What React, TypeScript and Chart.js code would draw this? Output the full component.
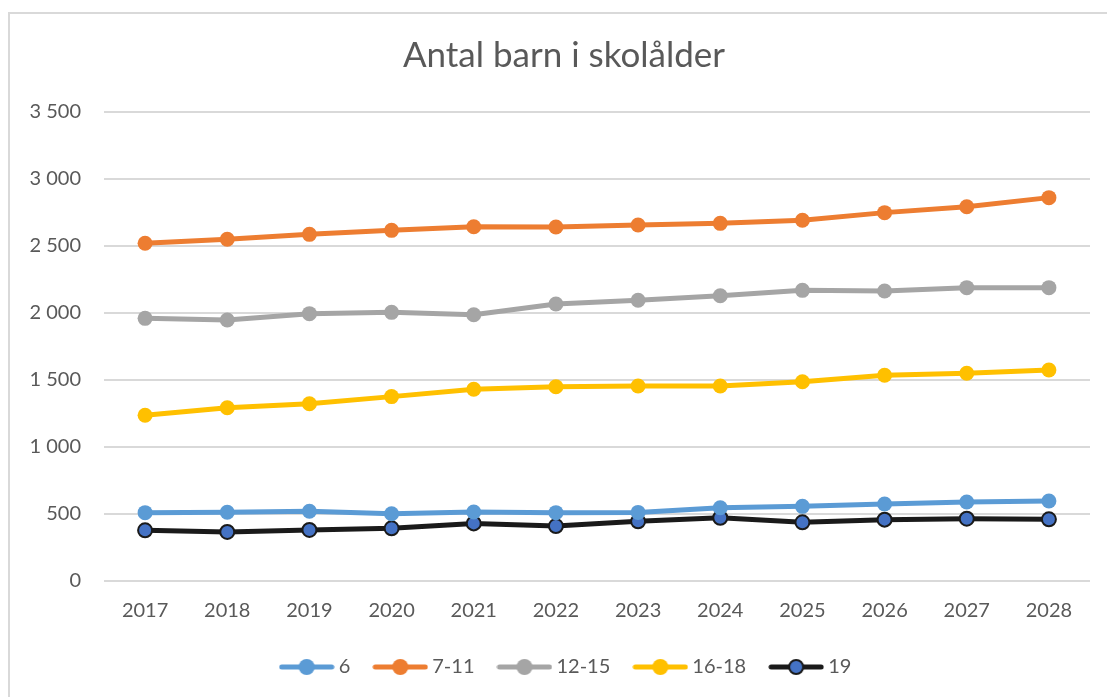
import React, { useEffect, useRef } from "react";
import { Chart, registerables } from "chart.js";

Chart.register(...registerables);

const years = ["2017", "2018", "2019", "2020", "2021", "2022", "2023", "2024", "2025", "2026", "2027", "2028"];
const age6 = [510, 513, 520, 502, 515, 510, 512, 547, 557, 575, 590, 597];
const age7to11 = [2520, 2550, 2587, 2617, 2644, 2642, 2657, 2669, 2692, 2749, 2793, 2861];
const age12to15 = [1960, 1948, 1995, 2005, 1987, 2067, 2095, 2129, 2169, 2164, 2189, 2189];
const age16to18 = [1237, 1293, 1323, 1376, 1431, 1450, 1455, 1455, 1487, 1535, 1550, 1575];
const age19 = [378, 366, 381, 393, 430, 410, 445, 472, 438, 458, 465, 460];

const seriesNames = ["6", "7-11", "12-15", "16-18", "19"];
const yTicks = [0, 500, 1000, 1500, 2000, 2500, 3000, 3500];

const FONT = "Lato, 'Open Sans', sans-serif";
const TEXT = "#595959";

function makeLegendIcon(line: string, fill: string, stroke: string | null) {
  const c = document.createElement("canvas");
  c.width = 56;
  c.height = 20;
  const ctx = c.getContext("2d")!;
  ctx.strokeStyle = line;
  ctx.lineWidth = 5;
  ctx.lineCap = "round";
  ctx.beginPath();
  ctx.moveTo(3, 10);
  ctx.lineTo(53, 10);
  ctx.stroke();
  ctx.beginPath();
  ctx.arc(28, 10, stroke ? 7 : 8, 0, Math.PI * 2);
  ctx.fillStyle = fill;
  ctx.fill();
  if (stroke) {
    ctx.lineWidth = 2;
    ctx.strokeStyle = stroke;
    ctx.stroke();
  }
  return c;
}

function fmt(v: number) {
  if (v >= 1000) {
    return Math.floor(v / 1000) + " " + String(v % 1000).padStart(3, "0");
  }
  return String(v);
}

export default function App() {
  const ref = useRef<HTMLCanvasElement | null>(null);

  useEffect(() => {
    if (!ref.current) return;
    const styles = [
      { line: "#5B9BD5", fill: "#5B9BD5", stroke: null as string | null, data: age6 },
      { line: "#ED7D31", fill: "#ED7D31", stroke: null, data: age7to11 },
      { line: "#A5A5A5", fill: "#A5A5A5", stroke: null, data: age12to15 },
      { line: "#FFC000", fill: "#FFC000", stroke: null, data: age16to18 },
      { line: "#1A1A1A", fill: "#4472C4", stroke: "#1A1A1A", data: age19 },
    ];
    const icons = styles.map((s) => makeLegendIcon(s.line, s.fill, s.stroke));

    const framePlugin = {
      id: "frame",
      beforeLayout(chart: any) {
        const lg = chart.legend;
        if (lg && !lg.__patched) {
          const orig = lg.fit;
          lg.fit = function () {
            orig.call(this);
            this.height = 60;
          };
          lg.__patched = true;
        }
      },
      afterLayout(chart: any) {
        if (chart.titleBlock) {
          chart.titleBlock.left += 10;
          chart.titleBlock.right += 10;
        }
        if (chart.legend) {
          chart.legend.left += 14;
          chart.legend.right += 14;
        }
      },
      beforeDraw(chart: any) {
        const ctx = chart.ctx;
        ctx.save();
        ctx.fillStyle = "#ffffff";
        ctx.fillRect(0, 0, chart.width, chart.height);
        ctx.strokeStyle = "#D9D9D9";
        ctx.lineWidth = 2;
        ctx.strokeRect(9, 13, chart.width + 20, chart.height + 20);
        ctx.restore();
      },
    };

    const chart = new Chart(ref.current, {
      type: "line",
      data: {
        labels: years,
        datasets: styles.map((s, i) => ({
          label: seriesNames[i],
          data: s.data,
          borderColor: s.line,
          backgroundColor: s.fill,
          borderWidth: 5,
          pointRadius: s.stroke ? 7 : 7.5,
          pointBackgroundColor: s.fill,
          pointBorderColor: s.stroke ?? s.fill,
          pointBorderWidth: s.stroke ? 2 : 0,
          tension: 0,
          fill: false,
        })),
      },
      options: {
        animation: false,
        responsive: false,
        maintainAspectRatio: false,
        layout: { padding: { left: 18, right: 17, top: 13, bottom: 8 } },
        plugins: {
          title: {
            display: true,
            text: "Antal barn i skolålder",
            color: TEXT,
            font: { family: FONT, size: 35, weight: "normal" },
            padding: { top: 22, bottom: 35 },
          },
          legend: {
            position: "bottom",
            labels: {
              usePointStyle: true,
              pointStyleWidth: 44,
              padding: 28,
              color: TEXT,
              font: { family: FONT, size: 20 },
              generateLabels: (chart: any) =>
                chart.data.datasets.map((d: any, i: number) => ({
                  text: d.label,
                  pointStyle: icons[i],
                  fillStyle: d.backgroundColor,
                  strokeStyle: d.borderColor,
                  lineWidth: 0,
                  hidden: false,
                  datasetIndex: i,
                  fontColor: TEXT,
                })),
            },
          },
          tooltip: { enabled: false },
        },
        scales: {
          x: {
            offset: true,
            grid: { display: false, drawTicks: false },
            border: { display: false },
            ticks: { color: TEXT, font: { family: FONT, size: 20 }, padding: 18, maxRotation: 0 },
            afterFit: (s: any) => {
              s.height = 48;
            },
          },
          y: {
            min: 0,
            max: 3500,
            afterBuildTicks: (s: any) => {
              s.ticks = yTicks.map((v) => ({ value: v }));
            },
            grid: { color: "#D9D9D9", lineWidth: 2, drawTicks: false },
            border: { display: false },
            ticks: {
              color: TEXT,
              font: { family: FONT, size: 20 },
              padding: 23,
              callback: (v: any) => fmt(Number(v)),
            },
            afterFit: (s: any) => {
              s.width = 86;
            },
          },
        },
      },
      plugins: [framePlugin],
    });
    return () => chart.destroy();
  }, []);

  return (
    <div style={{ position: "fixed", left: 0, top: 0, width: 1107, height: 697, background: "#fff" }}>
      <canvas ref={ref} width={1107} height={697} style={{ display: "block", width: 1107, height: 697 }} />
    </div>
  );
}
